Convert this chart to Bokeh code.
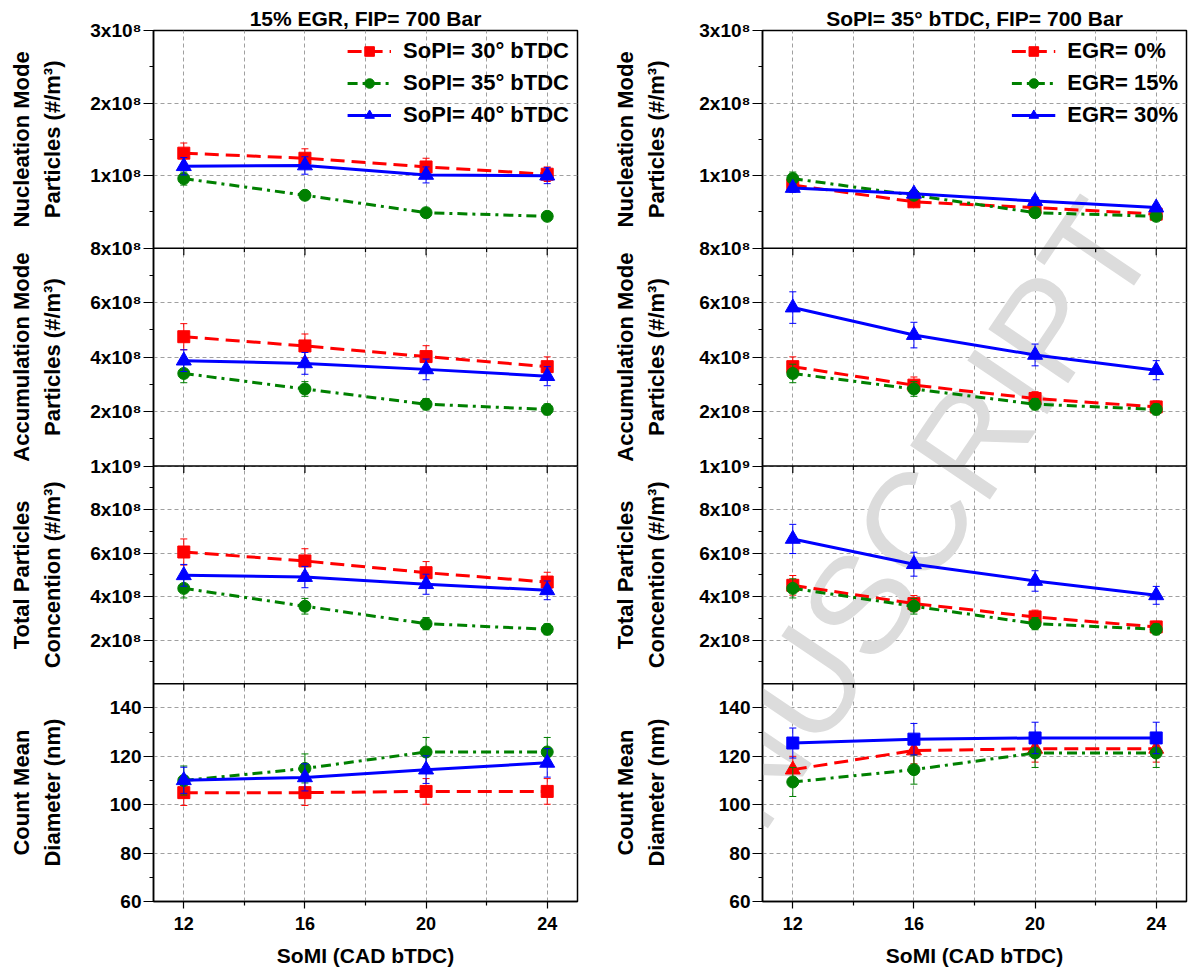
import math
import numpy as np
from bokeh.plotting import figure
from bokeh.models import Range1d, FixedTicker, CustomJSTickFormatter, Span, Label, LinearAxis
from bokeh.layouts import row
from bokeh.embed import file_html
from bokeh.resources import INLINE

# ---------------- data ----------------
somi = [12, 16, 20, 24]
x_major_ticks = [12, 16, 20, 24]
x_minor_ticks = [14, 18, 22]
x_grid_ticks = [12, 14, 16, 18, 20, 22, 24]

left_title = "15% EGR, FIP= 700 Bar"
right_title = "SoPI= 35° bTDC, FIP= 700 Bar"
left_legend = ["SoPI= 30° bTDC", "SoPI= 35° bTDC", "SoPI= 40° bTDC"]
right_legend = ["EGR= 0%", "EGR= 15%", "EGR= 30%"]

# Left column: 15% EGR, varying SoPI
nuc_sopi30 = [1.31e8, 1.24e8, 1.12e8, 1.02e8]
nuc_sopi30_err = [0.14e8, 0.13e8, 0.12e8, 0.10e8]
nuc_sopi35 = [0.96e8, 0.73e8, 0.49e8, 0.44e8]
nuc_sopi35_err = [0.09e8, 0.04e8, 0.03e8, 0.03e8]
nuc_sopi40 = [1.13e8, 1.14e8, 1.01e8, 1.00e8]
nuc_sopi40_err = [0.12e8, 0.12e8, 0.11e8, 0.11e8]

acc_sopi30 = [4.75e8, 4.41e8, 4.02e8, 3.65e8]
acc_sopi30_err = [0.48e8, 0.44e8, 0.40e8, 0.36e8]
acc_sopi35 = [3.40e8, 2.83e8, 2.27e8, 2.08e8]
acc_sopi35_err = [0.34e8, 0.27e8, 0.21e8, 0.20e8]
acc_sopi40 = [3.87e8, 3.77e8, 3.55e8, 3.30e8]
acc_sopi40_err = [0.40e8, 0.40e8, 0.38e8, 0.35e8]

tot_sopi30 = [6.05e8, 5.64e8, 5.10e8, 4.67e8]
tot_sopi30_err = [0.60e8, 0.56e8, 0.51e8, 0.45e8]
tot_sopi35 = [4.38e8, 3.56e8, 2.76e8, 2.50e8]
tot_sopi35_err = [0.44e8, 0.36e8, 0.28e8, 0.25e8]
tot_sopi40 = [4.98e8, 4.90e8, 4.57e8, 4.29e8]
tot_sopi40_err = [0.50e8, 0.49e8, 0.46e8, 0.43e8]

cmd_sopi30 = [105.0, 105.0, 105.5, 105.5]
cmd_sopi30_err = [5.3, 5.3, 5.3, 5.3]
cmd_sopi35 = [110.0, 115.0, 121.8, 121.8]
cmd_sopi35_err = [6.0, 6.0, 6.0, 6.0]
cmd_sopi40 = [110.1, 111.3, 114.5, 117.3]
cmd_sopi40_err = [5.4, 5.6, 5.7, 5.9]

# Right column: SoPI 35 deg, varying EGR
nuc_egr0 = [0.87e8, 0.64e8, 0.56e8, 0.47e8]
nuc_egr0_err = [0.06e8, 0.05e8, 0.04e8, 0.04e8]
nuc_egr15 = [0.96e8, 0.73e8, 0.49e8, 0.44e8]
nuc_egr15_err = [0.09e8, 0.04e8, 0.03e8, 0.03e8]
nuc_egr30 = [0.83e8, 0.75e8, 0.65e8, 0.56e8]
nuc_egr30_err = [0.06e8, 0.05e8, 0.05e8, 0.04e8]

acc_egr0 = [3.65e8, 2.97e8, 2.48e8, 2.17e8]
acc_egr0_err = [0.36e8, 0.30e8, 0.25e8, 0.22e8]
acc_egr15 = [3.40e8, 2.83e8, 2.27e8, 2.08e8]
acc_egr15_err = [0.34e8, 0.27e8, 0.21e8, 0.20e8]
acc_egr30 = [5.82e8, 4.81e8, 4.08e8, 3.52e8]
acc_egr30_err = [0.58e8, 0.47e8, 0.40e8, 0.35e8]

tot_egr0 = [4.52e8, 3.68e8, 3.07e8, 2.61e8]
tot_egr0_err = [0.45e8, 0.37e8, 0.31e8, 0.26e8]
tot_egr15 = [4.38e8, 3.56e8, 2.76e8, 2.50e8]
tot_egr15_err = [0.44e8, 0.36e8, 0.28e8, 0.25e8]
tot_egr30 = [6.65e8, 5.49e8, 4.72e8, 4.06e8]
tot_egr30_err = [0.67e8, 0.55e8, 0.47e8, 0.41e8]

cmd_egr0 = [114.5, 122.4, 123.1, 123.1]
cmd_egr0_err = [5.5, 5.5, 5.5, 5.5]
cmd_egr15 = [109.4, 114.5, 121.4, 121.4]
cmd_egr15_err = [6.0, 6.0, 6.0, 6.0]
cmd_egr30 = [125.5, 127.1, 127.6, 127.6]
cmd_egr30_err = [6.2, 6.5, 6.5, 6.5]

# y tick labels of each stacked panel
nuc_ticks = [1e8, 2e8, 3e8]
nuc_tick_labels = ["1x10⁸", "2x10⁸", "3x10⁸"]
acc_ticks = [2e8, 4e8, 6e8, 8e8]
acc_tick_labels = ["2x10⁸", "4x10⁸", "6x10⁸", "8x10⁸"]
tot_ticks = [2e8, 4e8, 6e8, 8e8, 1e9]
tot_tick_labels = ["2x10⁸", "4x10⁸", "6x10⁸", "8x10⁸", "1x10⁹"]
cmd_ticks = [60, 80, 100, 120, 140]
cmd_tick_labels = ["60", "80", "100", "120", "140"]

# ---------------- styling / layout ----------------
FONT = "Liberation Sans"
RED, GREEN, BLUE = "#ff0000", "#008000", "#0000ff"
GRID = "#a0a0a0"

PANELS = [  # top to bottom
    dict(key="nuc", lo=0, hi=3e8, minor=0.5e8, ticks=nuc_ticks, labels=nuc_tick_labels,
         title=("Nucleation Mode", "Particles (#/m³)")),
    dict(key="acc", lo=0, hi=8e8, minor=1e8, ticks=acc_ticks, labels=acc_tick_labels,
         title=("Accumulation Mode", "Particles (#/m³)")),
    dict(key="tot", lo=0, hi=1e9, minor=1e8, ticks=tot_ticks, labels=tot_tick_labels,
         title=("Total Particles", "Concention (#/m³)")),
    dict(key="cmd", lo=60, hi=150, minor=10, ticks=cmd_ticks, labels=cmd_tick_labels,
         title=("Count Mean", "Diameter (nm)")),
]
N = len(PANELS)
FIG_H = 974
TOP, BOTTOM = 30, 73
PPU = (FIG_H - TOP - BOTTOM) / N  # pixels per panel unit

STYLE = {
    "red": dict(color=RED, dash="14 7", marker="square", size=12),
    "green": dict(color=GREEN, dash="10 5 3 5", marker="circle", size=12),
    "blue": dict(color=BLUE, dash="solid", marker="triangle", size=15),
}

LOOKUP = ("for (let j = 0; j < pos.length; j++) { if (Math.abs(pos[j] - tick) < 1e-6) "
          "return labels[j]; } return '';")


def slot(i):
    return N - 1 - i


def to_pos(i, v):
    pn = PANELS[i]
    return slot(i) + (v - pn["lo"]) / (pn["hi"] - pn["lo"])


def title_axis(line, standoff):
    pos = [slot(i) + 0.5 for i in range(N)]
    labels = [pn["title"][line] for pn in PANELS]
    ax = LinearAxis(ticker=FixedTicker(ticks=pos, minor_ticks=[]),
                    formatter=CustomJSTickFormatter(args=dict(pos=pos, labels=labels), code=LOOKUP),
                    major_label_orientation="vertical", major_label_standoff=standoff,
                    axis_line_color=None, major_tick_line_color=None, minor_tick_line_color=None,
                    major_tick_out=0, major_tick_in=0, minor_tick_out=0, minor_tick_in=0,
                    major_label_text_font=FONT, major_label_text_font_style="bold",
                    major_label_text_font_size="22px", major_label_text_color="black")
    return ax


def make_column(width, left_border, right_border, title, series, standoffs):
    p = figure(width=width, height=FIG_H, x_range=Range1d(11, 25), y_range=Range1d(0, N),
               output_backend="svg", toolbar_location=None,
               min_border_left=left_border, min_border_right=right_border,
               min_border_top=TOP, min_border_bottom=BOTTOM)
    p.outline_line_color = "black"
    p.outline_line_width = 1.5
    p.outline_line_alpha = 1.0

    p.title.text = title
    p.title.align = "center"
    p.title.text_font = FONT
    p.title.text_font_style = "bold"
    p.title.text_font_size = "21px"
    p.title.text_color = "black"
    p.title.standoff = 2

    extra = {}
    major_pos, major_lab, minor_pos = [], [], []
    for i, pn in enumerate(PANELS):
        k = slot(i)
        span = pn["hi"] - pn["lo"]
        extra[pn["key"]] = Range1d(pn["lo"] - k * span, pn["hi"] + (N - 1 - k) * span)
        for t, lab in zip(pn["ticks"], pn["labels"]):
            major_pos.append(to_pos(i, t))
            major_lab.append(lab)
        for m in np.arange(pn["lo"] + pn["minor"], pn["hi"] - 1e-9 * span, pn["minor"]):
            if not any(abs(m - t) < 1e-9 * span for t in pn["ticks"]):
                minor_pos.append(to_pos(i, float(m)))
    p.extra_y_ranges = extra

    # y axis
    yax = p.yaxis[0]
    yax.ticker = FixedTicker(ticks=major_pos, minor_ticks=minor_pos)
    yax.formatter = CustomJSTickFormatter(args=dict(pos=major_pos, labels=major_lab), code=LOOKUP)
    yax.major_label_text_font = FONT
    yax.major_label_text_font_style = "bold"
    yax.major_label_text_font_size = "19px"
    yax.major_label_text_color = "black"
    yax.major_tick_out = 10
    yax.major_tick_in = 0
    yax.minor_tick_out = 4
    yax.minor_tick_in = 0
    yax.major_label_standoff = 2
    yax.axis_line_width = 1.5
    yax.major_tick_line_width = 1.2
    yax.minor_tick_line_width = 1.2

    # two-line panel titles, as outer axes on the left
    p.add_layout(title_axis(1, standoffs[0]), "left")
    p.add_layout(title_axis(0, standoffs[1]), "left")

    # x axis
    xax = p.xaxis[0]
    xax.ticker = FixedTicker(ticks=x_major_ticks, minor_ticks=x_minor_ticks)
    xax.major_label_text_font = FONT
    xax.major_label_text_font_style = "bold"
    xax.major_label_text_font_size = "18px"
    xax.major_label_text_color = "black"
    xax.major_tick_out = 7
    xax.major_tick_in = 0
    xax.minor_tick_out = 4
    xax.minor_tick_in = 0
    xax.major_label_standoff = 8
    xax.axis_line_width = 1.5
    xax.major_tick_line_width = 1.2
    xax.minor_tick_line_width = 1.2
    xax.axis_label = "SoMI (CAD bTDC)"
    xax.axis_label_text_font = FONT
    xax.axis_label_text_font_style = "bold"
    xax.axis_label_text_font_size = "21px"
    xax.axis_label_text_color = "black"
    xax.axis_label_standoff = 11

    # grids
    p.xgrid.ticker = FixedTicker(ticks=x_grid_ticks)
    p.ygrid.ticker = FixedTicker(ticks=major_pos)
    for g in (p.xgrid[0], p.ygrid[0]):
        g.grid_line_color = GRID
        g.grid_line_dash = "4 3"
        g.grid_line_width = 1

    # panel dividers with their ticks
    for k in range(1, N):
        p.add_layout(Span(location=k, dimension="width", line_color="black", line_width=1.5))
        xs = x_major_ticks + x_minor_ticks
        lens = [7] * len(x_major_ticks) + [4] * len(x_minor_ticks)
        p.segment(x0=xs, y0=[k] * len(xs), x1=xs, y1=[k - L / PPU for L in lens],
                  line_color="black", line_width=1.2)

    # data
    for i, pn in enumerate(PANELS):
        key = pn["key"]
        for (vals, errs, sty, name) in series[key]:
            st = dict(STYLE[sty[0]])
            if sty[1] is not None:
                st["marker"], st["size"] = STYLE[sty[1]]["marker"], STYLE[sty[1]]["size"]
            leg = {} if name is None else dict(legend_label=name)
            p.line(somi, vals, line_color=st["color"], line_width=3, line_dash=st["dash"],
                   y_range_name=key, **leg)
            p.scatter(somi, vals, marker=st["marker"], size=st["size"], fill_color=st["color"],
                      line_color=st["color"], y_range_name=key, **leg)
            lo = [v - e for v, e in zip(vals, errs)]
            hi = [v + e for v, e in zip(vals, errs)]
            p.segment(x0=somi, y0=lo, x1=somi, y1=hi, line_color=st["color"], line_width=1,
                      y_range_name=key)
            p.scatter(somi + somi, lo + hi, marker="dash", size=7, line_color=st["color"],
                      line_width=1, y_range_name=key)

    lg = p.legend[0]
    lg.location = "top_right"
    lg.margin = 8
    lg.padding = 6
    lg.spacing = 6
    lg.glyph_width = 44
    lg.glyph_height = 24
    lg.label_height = 24
    lg.label_standoff = 12
    lg.border_line_color = None
    lg.background_fill_alpha = 0
    lg.label_text_font = FONT
    lg.label_text_font_style = "bold"
    lg.label_text_font_size = "22px"
    lg.label_text_color = "black"
    return p


left_series = {
    "nuc": [(nuc_sopi30, nuc_sopi30_err, ("red", None), left_legend[0]),
            (nuc_sopi35, nuc_sopi35_err, ("green", None), left_legend[1]),
            (nuc_sopi40, nuc_sopi40_err, ("blue", None), left_legend[2])],
    "acc": [(acc_sopi30, acc_sopi30_err, ("red", None), None),
            (acc_sopi35, acc_sopi35_err, ("green", None), None),
            (acc_sopi40, acc_sopi40_err, ("blue", None), None)],
    "tot": [(tot_sopi30, tot_sopi30_err, ("red", None), None),
            (tot_sopi35, tot_sopi35_err, ("green", None), None),
            (tot_sopi40, tot_sopi40_err, ("blue", None), None)],
    "cmd": [(cmd_sopi30, cmd_sopi30_err, ("red", None), None),
            (cmd_sopi35, cmd_sopi35_err, ("green", None), None),
            (cmd_sopi40, cmd_sopi40_err, ("blue", None), None)],
}
right_series = {
    "nuc": [(nuc_egr0, nuc_egr0_err, ("red", None), right_legend[0]),
            (nuc_egr15, nuc_egr15_err, ("green", None), right_legend[1]),
            (nuc_egr30, nuc_egr30_err, ("blue", None), right_legend[2])],
    "acc": [(acc_egr0, acc_egr0_err, ("red", None), None),
            (acc_egr15, acc_egr15_err, ("green", None), None),
            (acc_egr30, acc_egr30_err, ("blue", None), None)],
    "tot": [(tot_egr0, tot_egr0_err, ("red", None), None),
            (tot_egr15, tot_egr15_err, ("green", None), None),
            (tot_egr30, tot_egr30_err, ("blue", None), None)],
    "cmd": [(cmd_egr0, cmd_egr0_err, ("red", "blue"), None),
            (cmd_egr15, cmd_egr15_err, ("green", None), None),
            (cmd_egr30, cmd_egr30_err, ("blue", "red"), None)],
}

left = make_column(590, 153, 13, left_title, left_series, (23, 3))
right = make_column(602, 172, 6, right_title, right_series, (28, 3))

# faint diagonal watermark of the source page
right.add_layout(Label(x=14.31, y=1.38, text="MANUSCRIPT",
                       angle=math.radians(56), text_align="center", text_baseline="middle",
                       text_font=FONT, text_font_size="140px", text_color="#dcdcdc",
                       level="underlay"))

layout = row(left, right)
open("out.html", "w").write(file_html(layout, INLINE))
